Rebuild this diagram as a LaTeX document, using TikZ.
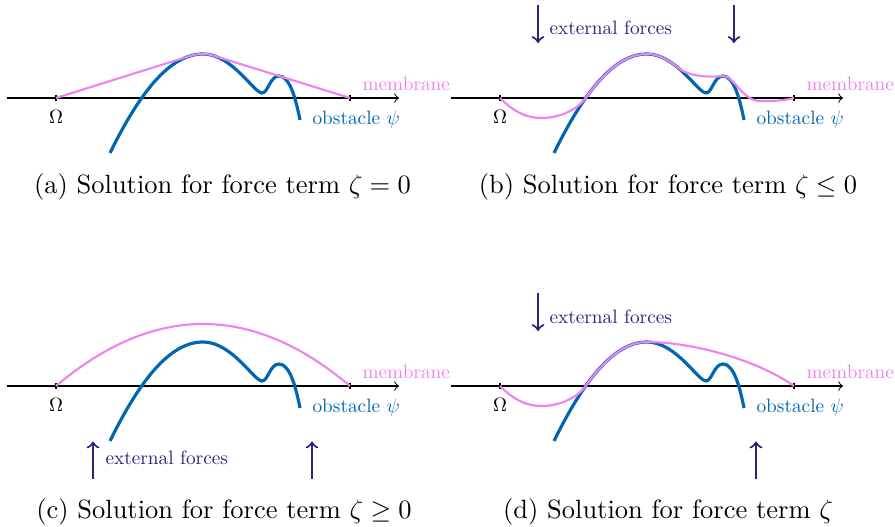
\documentclass[tikz,border=0pt]{standalone}
\usepackage{graphicx}
\newcommand{\smltxt}[1]{\scalebox{0.73}{#1}}
\definecolor{obst}{RGB}{0,102,178}
\definecolor{memb}{RGB}{238,130,238}
\definecolor{force}{RGB}{40,35,125}
\tikzset{
  axisline/.style={black,line width=0.4pt,->},
  axtick/.style={black,line width=0.9pt},
  obstline/.style={obst,line width=1.2pt},
  membline/.style={memb,line width=0.8pt},
  forcearrow/.style={force,line width=0.8pt,->},
  smalllabel/.style={font=\normalsize,inner sep=0pt},
  captiontext/.style={font=\normalsize,inner sep=0pt},
  obstacle/.pic={
    \draw[obstline] (110,153) .. controls (140,92) and (170,54) .. (203,54)
      .. controls (232,54) and (254,93) .. (262,93)
      .. controls (268,93) and (270,76) .. (279,76)
      .. controls (290,76) and (296,100) .. (300,120);
  },
  frame/.pic={
    \coordinate (-axs) at (7,98);
    \coordinate (-axe) at (399,98);
    \draw[axisline] (-axs) -- (-axe);
    \draw[axtick] (56,95) -- (56,101);
    \draw[axtick] (350,95) -- (350,101);
    \node[smalllabel] (-omega) at (56,117) {\smltxt{$\Omega$}};
    \node[smalllabel,anchor=west,text=memb] (-memlab) at (362,84) {\smltxt{membrane}};
    \node[smalllabel,anchor=west,text=obst] (-obslab) at (312,120) {\smltxt{obstacle $\psi$}};
  }
}
\begin{document}
\begin{tikzpicture}[x=0.378pt,y=-0.378pt]
\useasboundingbox (0,0) rectangle (895,527);

% ---------- (a) ----------
\begin{scope}
  \pic (pa) at (0,0) {frame};
  \pic at (0,0) {obstacle};
  \draw[membline] (56,98) -- (189.3,56.2) .. controls (194,54.6) and (198,54) .. (203,54)
     .. controls (206.5,54) and (210,54.5) .. (213.1,55.55) -- (350,98);
  \node[captiontext] (capa) at (222.5,187) {(a) Solution for force term $\zeta = 0$};
\end{scope}

% ---------- (b) ----------
\begin{scope}[shift={(444,0)}]
  \pic (pb) at (0,0) {frame};
  \pic at (0,0) {obstacle};
  \draw[membline] (56,98) .. controls (68,110) and (80,118) .. (98,118)
     .. controls (116,118) and (133.7,109.3) .. (141.66,98.1)
     .. controls (161.47,70.06) and (181.55,54) .. (203,54)
     .. controls (214.6,54) and (225.08,60.24) .. (234,67.73)
     .. controls (243,75.3) and (262,78) .. (279,76)
     .. controls (290,76) and (298,100) .. (315,101)
     .. controls (330,101.5) and (342,100) .. (350,98);
  \coordinate (b1s) at (94,5);  \coordinate (b1e) at (94,43);
  \coordinate (b2s) at (290,5); \coordinate (b2e) at (290,43);
  \draw[forcearrow] (b1s) -- (b1e);
  \draw[forcearrow] (b2s) -- (b2e);
  \node[smalllabel,anchor=west,text=force] (bforce) at (105,28) {\smltxt{external forces}};
  \node[captiontext] (capb) at (224,187) {(b) Solution for force term $\zeta \leq 0$};
\end{scope}

% ---------- (c) ----------
\begin{scope}[shift={(0,288)}]
  \pic (pc) at (0,0) {frame};
  \pic at (0,0) {obstacle};
  \draw[membline] (56,98) .. controls (154,15.3) and (252,15.3) .. (350,98);
  \coordinate (c1s) at (93,191);  \coordinate (c1e) at (93,153.5);
  \coordinate (c2s) at (312,191); \coordinate (c2e) at (312,153.5);
  \draw[forcearrow] (c1s) -- (c1e);
  \draw[forcearrow] (c2s) -- (c2e);
  \node[smalllabel,anchor=west,text=force] (cforce) at (105,170) {\smltxt{external forces}};
  \node[captiontext] (capc) at (224,224) {(c) Solution for force term $\zeta \geq 0$};
\end{scope}

% ---------- (d) ----------
\begin{scope}[shift={(444,288)}]
  \pic (pd) at (0,0) {frame};
  \pic at (0,0) {obstacle};
  \draw[membline] (56,98) .. controls (68,110) and (80,118) .. (98,118)
     .. controls (116,118) and (133.7,109.3) .. (141.66,98.1)
     .. controls (161.47,70.06) and (181.55,54) .. (203,54)
     .. controls (245,54) and (310,70) .. (350,98);
  \coordinate (d1s) at (94,5);  \coordinate (d1e) at (94,43);
  \coordinate (d2s) at (312,191); \coordinate (d2e) at (312,153.5);
  \draw[forcearrow] (d1s) -- (d1e);
  \draw[forcearrow] (d2s) -- (d2e);
  \node[smalllabel,anchor=west,text=force] (dforce) at (105,28.5) {\smltxt{external forces}};
  \node[captiontext] (capd) at (224,224) {(d) Solution for force term $\zeta$};
\end{scope}
\end{tikzpicture}
\end{document}
